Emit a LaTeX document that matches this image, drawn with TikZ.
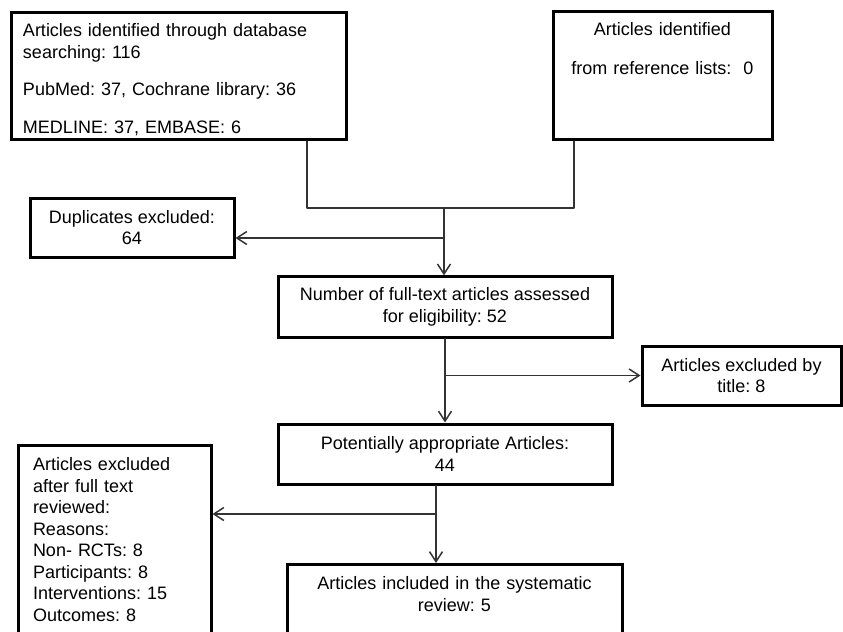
\documentclass[tikz,border=0pt]{standalone}
\usepackage{fontspec}
\setmainfont{Liberation Sans}
\usepackage{tikz}
\usetikzlibrary{arrows.meta}
\usepackage{xcolor}
\frenchspacing

\begin{document}
\begin{tikzpicture}[line cap=round,line join=round,>={Straight Barb[length=5pt,width=6.5pt]},x=0.5pt,y=-0.5pt,
  box/.style={draw,line width=1.5pt,line join=miter,font=\fontsize{9}{10.75}\selectfont,inner xsep=6pt,inner ysep=5.5pt},
  flow/.style={black!80,line width=0.75pt}]
\useasboundingbox (0,0) rectangle (843,632);
\clip (0,0) rectangle (843,632);

\node [box,anchor=north,align=left,text width=155.5pt,text depth=46pt] (srcdb) at (178.5,11)
  {Articles identified through database\\ searching: 116\\[8pt] PubMed: 37, Cochrane library: 36\\[8pt] MEDLINE: 37, EMBASE: 6};
\node [box,anchor=north,align=center,text width=97.5pt,text depth=46.5pt] (srcref) at (662.5,10)
  {Articles identified\\[8.75pt] from reference lists:~~0};

\node [box,align=center,minimum width=102pt,minimum height=29.5pt] (dupl) at (132,227.5) {Duplicates excluded:\\ 64};
\node [box,align=center,minimum width=167pt,minimum height=30pt] (assess) at (445,307)
  {Number of full-text articles assessed\\ for eligibility: 52};
\node [box,align=center,minimum width=99.5pt,minimum height=29.5pt] (title) at (741.5,375.5) {Articles excluded by\\ title: 8};
\node [box,align=center,minimum width=167pt,minimum height=30pt] (approp) at (445,454) {Potentially appropriate Articles:\\ 44};

\node [box,anchor=north,align=left,text width=81.5pt,inner xsep=7.5pt,inner ysep=6pt,text depth=100pt] (fulltext) at (114.5,444)
  {Articles excluded\\ after full text\\ reviewed:\\ Reasons:\\ Non- RCTs: 8\\ Participants: 8\\ Interventions: 15\\ Outcomes: 8};
\node [box,anchor=north,align=center,text width=155.5pt,inner ysep=6pt,text depth=35pt] (incl) at (454.5,563)
  {Articles included in the systematic\\ review: 5};

\coordinate (dbx) at (307,208);
\coordinate (refx) at (574,208);
\coordinate (merge) at (444,208);
\coordinate (dupsplit) at (444,238);
\coordinate (inclsplit) at (436,514);

\draw [flow] (srcdb.south -| dbx) -- (dbx) -- (refx) -- (srcref.south -| refx);
\draw [flow,->] (merge) -- (merge |- assess.north);
\draw [flow,->] (dupsplit) -- (dupl.east |- dupsplit);
\draw [flow,->] (assess.south) -- (approp.north);
\draw [flow,->] (assess.south |- title.west) -- (title.west);
\draw [flow,->] (approp.south -| inclsplit) -- (incl.north -| inclsplit);
\draw [flow,->] (inclsplit) -- (inclsplit -| fulltext.east);
\end{tikzpicture}
\end{document}
